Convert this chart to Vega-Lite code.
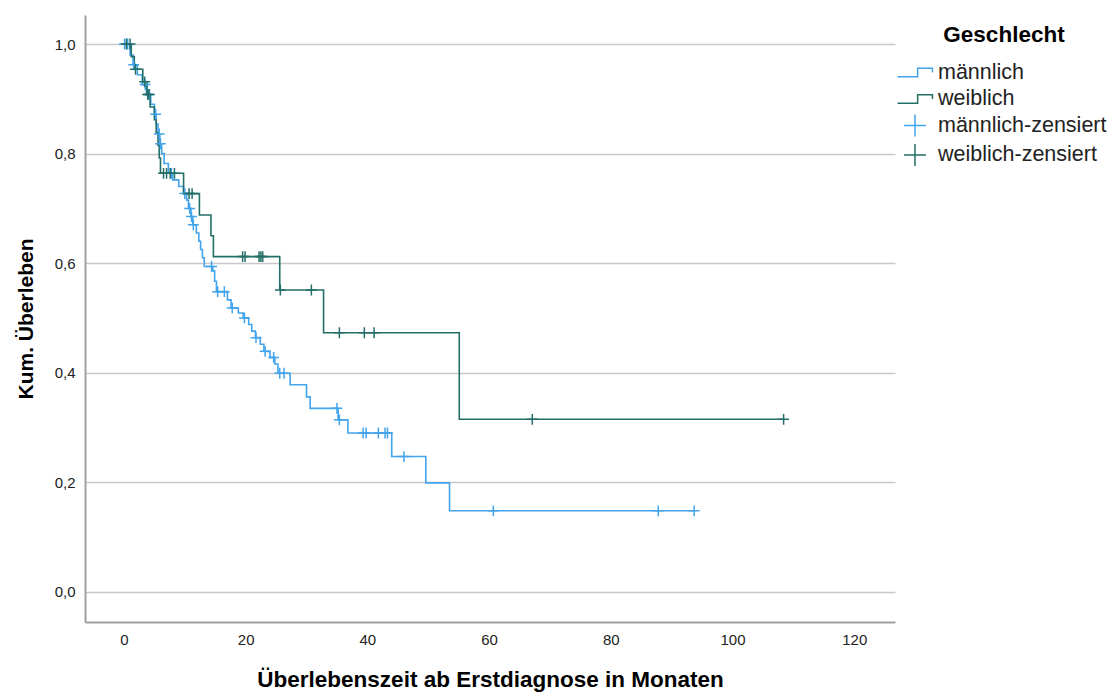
{
  "$schema": "https://vega.github.io/schema/vega-lite/v6.json",
  "width": 810,
  "height": 607,
  "autosize": {"type": "none"},
  "padding": {"left": 85, "top": 15, "right": 218, "bottom": 71},
  "background": "white",
  "config": {
    "view": {"stroke": null},
    "font": "Liberation Sans",
    "axis": {"labelFont": "Liberation Sans", "titleFont": "Liberation Sans", "labelColor": "#222222", "titleColor": "#000000", "domainColor": "#a0a0a0", "domainWidth": 2, "gridColor": "#c8c8c8", "gridWidth": 1.5, "ticks": false},
    "legend": {"labelFont": "Liberation Sans", "titleFont": "Liberation Sans"}
  },
  "datasets": {
    "steps": [
      {"g": "männlich", "t": 0, "s": 1.0},
      {"g": "männlich", "t": 1.0, "s": 0.98},
      {"g": "männlich", "t": 1.5, "s": 0.962},
      {"g": "männlich", "t": 2.2, "s": 0.944},
      {"g": "männlich", "t": 3.0, "s": 0.926},
      {"g": "männlich", "t": 3.7, "s": 0.908},
      {"g": "männlich", "t": 4.4, "s": 0.89},
      {"g": "männlich", "t": 5.0, "s": 0.872},
      {"g": "männlich", "t": 5.3, "s": 0.854},
      {"g": "männlich", "t": 5.6, "s": 0.836},
      {"g": "männlich", "t": 5.9, "s": 0.818},
      {"g": "männlich", "t": 6.2, "s": 0.8},
      {"g": "männlich", "t": 6.6, "s": 0.782},
      {"g": "männlich", "t": 7.3, "s": 0.764},
      {"g": "männlich", "t": 8.0, "s": 0.752},
      {"g": "männlich", "t": 9.0, "s": 0.74},
      {"g": "männlich", "t": 9.8, "s": 0.727},
      {"g": "männlich", "t": 10.3, "s": 0.715},
      {"g": "männlich", "t": 10.6, "s": 0.7},
      {"g": "männlich", "t": 11.0, "s": 0.685},
      {"g": "männlich", "t": 11.3, "s": 0.67},
      {"g": "männlich", "t": 11.9, "s": 0.655},
      {"g": "männlich", "t": 12.3, "s": 0.64},
      {"g": "männlich", "t": 12.6, "s": 0.625},
      {"g": "männlich", "t": 12.9, "s": 0.61},
      {"g": "männlich", "t": 13.2, "s": 0.594},
      {"g": "männlich", "t": 14.6, "s": 0.586},
      {"g": "männlich", "t": 14.9, "s": 0.567},
      {"g": "männlich", "t": 15.2, "s": 0.548},
      {"g": "männlich", "t": 17.0, "s": 0.533},
      {"g": "männlich", "t": 17.6, "s": 0.518},
      {"g": "männlich", "t": 18.8, "s": 0.509},
      {"g": "männlich", "t": 19.6, "s": 0.5},
      {"g": "männlich", "t": 20.5, "s": 0.488},
      {"g": "männlich", "t": 21.0, "s": 0.476},
      {"g": "männlich", "t": 21.6, "s": 0.464},
      {"g": "männlich", "t": 22.4, "s": 0.452},
      {"g": "männlich", "t": 23.0, "s": 0.439},
      {"g": "männlich", "t": 24.0, "s": 0.428},
      {"g": "männlich", "t": 24.8, "s": 0.416},
      {"g": "männlich", "t": 25.3, "s": 0.399},
      {"g": "männlich", "t": 27.3, "s": 0.378},
      {"g": "männlich", "t": 30.0, "s": 0.356},
      {"g": "männlich", "t": 30.6, "s": 0.335},
      {"g": "männlich", "t": 35.2, "s": 0.314},
      {"g": "männlich", "t": 36.8, "s": 0.29},
      {"g": "männlich", "t": 44.0, "s": 0.247},
      {"g": "männlich", "t": 49.6, "s": 0.199},
      {"g": "männlich", "t": 53.5, "s": 0.148},
      {"g": "männlich", "t": 93.8, "s": 0.148},
      {"g": "weiblich", "t": 0, "s": 1.0},
      {"g": "weiblich", "t": 1.2, "s": 0.977},
      {"g": "weiblich", "t": 1.7, "s": 0.954},
      {"g": "weiblich", "t": 3.1, "s": 0.931},
      {"g": "weiblich", "t": 3.8, "s": 0.908},
      {"g": "weiblich", "t": 4.3, "s": 0.885},
      {"g": "weiblich", "t": 5.0, "s": 0.862},
      {"g": "weiblich", "t": 5.3, "s": 0.838},
      {"g": "weiblich", "t": 5.6, "s": 0.815},
      {"g": "weiblich", "t": 5.8, "s": 0.792},
      {"g": "weiblich", "t": 6.0, "s": 0.764},
      {"g": "weiblich", "t": 9.8, "s": 0.727},
      {"g": "weiblich", "t": 12.4, "s": 0.688},
      {"g": "weiblich", "t": 14.3, "s": 0.65},
      {"g": "weiblich", "t": 14.7, "s": 0.612},
      {"g": "weiblich", "t": 25.6, "s": 0.551},
      {"g": "weiblich", "t": 32.8, "s": 0.473},
      {"g": "weiblich", "t": 55.1, "s": 0.315},
      {"g": "weiblich", "t": 108.4, "s": 0.315}
    ],
    "censored": [
      {"g": "männlich-zensiert", "t": 0.1, "s": 1.0},
      {"g": "männlich-zensiert", "t": 0.6, "s": 1.0},
      {"g": "männlich-zensiert", "t": 1.6, "s": 0.962},
      {"g": "männlich-zensiert", "t": 3.5, "s": 0.926},
      {"g": "männlich-zensiert", "t": 4.2, "s": 0.908},
      {"g": "männlich-zensiert", "t": 5.2, "s": 0.872},
      {"g": "männlich-zensiert", "t": 5.8, "s": 0.836},
      {"g": "männlich-zensiert", "t": 6.0, "s": 0.818},
      {"g": "männlich-zensiert", "t": 7.8, "s": 0.764},
      {"g": "männlich-zensiert", "t": 10.0, "s": 0.727},
      {"g": "männlich-zensiert", "t": 10.8, "s": 0.7},
      {"g": "männlich-zensiert", "t": 11.1, "s": 0.685},
      {"g": "männlich-zensiert", "t": 11.4, "s": 0.67},
      {"g": "männlich-zensiert", "t": 14.4, "s": 0.594},
      {"g": "männlich-zensiert", "t": 15.4, "s": 0.548},
      {"g": "männlich-zensiert", "t": 16.5, "s": 0.548},
      {"g": "männlich-zensiert", "t": 17.8, "s": 0.518},
      {"g": "männlich-zensiert", "t": 19.8, "s": 0.5},
      {"g": "männlich-zensiert", "t": 21.7, "s": 0.464},
      {"g": "männlich-zensiert", "t": 23.2, "s": 0.439},
      {"g": "männlich-zensiert", "t": 24.6, "s": 0.428},
      {"g": "männlich-zensiert", "t": 25.6, "s": 0.399},
      {"g": "männlich-zensiert", "t": 26.3, "s": 0.399},
      {"g": "männlich-zensiert", "t": 35.0, "s": 0.335},
      {"g": "männlich-zensiert", "t": 35.4, "s": 0.314},
      {"g": "männlich-zensiert", "t": 39.3, "s": 0.29},
      {"g": "männlich-zensiert", "t": 39.8, "s": 0.29},
      {"g": "männlich-zensiert", "t": 41.8, "s": 0.29},
      {"g": "männlich-zensiert", "t": 42.9, "s": 0.29},
      {"g": "männlich-zensiert", "t": 43.3, "s": 0.29},
      {"g": "männlich-zensiert", "t": 46.0, "s": 0.247},
      {"g": "männlich-zensiert", "t": 60.7, "s": 0.148},
      {"g": "männlich-zensiert", "t": 87.8, "s": 0.148},
      {"g": "männlich-zensiert", "t": 93.7, "s": 0.148},
      {"g": "weiblich-zensiert", "t": 0.4, "s": 1.0},
      {"g": "weiblich-zensiert", "t": 1.0, "s": 1.0},
      {"g": "weiblich-zensiert", "t": 1.9, "s": 0.954},
      {"g": "weiblich-zensiert", "t": 3.4, "s": 0.931},
      {"g": "weiblich-zensiert", "t": 3.9, "s": 0.908},
      {"g": "weiblich-zensiert", "t": 4.1, "s": 0.908},
      {"g": "weiblich-zensiert", "t": 6.5, "s": 0.764},
      {"g": "weiblich-zensiert", "t": 7.0, "s": 0.764},
      {"g": "weiblich-zensiert", "t": 7.6, "s": 0.764},
      {"g": "weiblich-zensiert", "t": 8.3, "s": 0.764},
      {"g": "weiblich-zensiert", "t": 10.7, "s": 0.727},
      {"g": "weiblich-zensiert", "t": 11.2, "s": 0.727},
      {"g": "weiblich-zensiert", "t": 19.5, "s": 0.612},
      {"g": "weiblich-zensiert", "t": 19.9, "s": 0.612},
      {"g": "weiblich-zensiert", "t": 22.2, "s": 0.612},
      {"g": "weiblich-zensiert", "t": 22.5, "s": 0.612},
      {"g": "weiblich-zensiert", "t": 22.8, "s": 0.612},
      {"g": "weiblich-zensiert", "t": 25.7, "s": 0.551},
      {"g": "weiblich-zensiert", "t": 30.8, "s": 0.551},
      {"g": "weiblich-zensiert", "t": 35.4, "s": 0.473},
      {"g": "weiblich-zensiert", "t": 39.5, "s": 0.473},
      {"g": "weiblich-zensiert", "t": 41.1, "s": 0.473},
      {"g": "weiblich-zensiert", "t": 67.1, "s": 0.315},
      {"g": "weiblich-zensiert", "t": 108.4, "s": 0.315}
    ]
  },
  "encoding": {
    "x": {"field": "t", "type": "quantitative", "scale": {"domain": [-6.4, 126.7], "nice": false, "zero": false},
      "axis": {"values": [0, 20, 40, 60, 80, 100, 120], "grid": false, "title": "Überlebenszeit ab Erstdiagnose in Monaten", "titleFontSize": 22.5, "titleFontWeight": "bold", "labelFontSize": 15, "labelPadding": 10, "titlePadding": 21}},
    "y": {"field": "s", "type": "quantitative", "scale": {"domain": [-0.055, 1.053], "nice": false, "zero": false},
      "axis": {"values": [0, 0.2, 0.4, 0.6, 0.8, 1.0], "grid": true, "title": "Kum. Überleben", "titleFontSize": 21, "titleFontWeight": "bold", "labelFontSize": 15, "labelPadding": 10, "titlePadding": 18,
        "labelExpr": "replace(format(datum.value, '.1f'), '.', ',')"}}
  },
  "layer": [
    {
      "data": {"name": "steps"},
      "mark": {"type": "line", "interpolate": "step-after", "strokeWidth": 1.6},
      "encoding": {
        "detail": {"field": "g"},
        "stroke": {"field": "g", "type": "nominal", "scale": {"domain": ["männlich", "weiblich"], "range": ["#42a4ec", "#236e67"]}, "legend": null}
      }
    },
    {
      "data": {"name": "censored"},
      "mark": {"type": "point", "filled": false, "strokeWidth": 1.5, "size": 170, "opacity": 1},
      "encoding": {
        "color": {"field": "g", "type": "nominal", "title": "Geschlecht",
          "scale": {"domain": ["männlich", "weiblich", "männlich-zensiert", "weiblich-zensiert"], "range": ["#42a4ec", "#236e67", "#42a4ec", "#236e67"]},
          "legend": {"orient": "none", "legendX": 816, "legendY": 9, "padding": 0, "titleFontSize": 22.5, "titleFontWeight": "bold", "titleColor": "#000000", "titleAnchor": "middle", "titlePadding": 12, "labelFontSize": 21.5, "labelColor": "#222222", "labelOffset": 9, "labelLimit": 0, "symbolSize": 700, "symbolStrokeWidth": 1.5, "rowPadding": 1.5}},
        "shape": {"field": "g", "type": "nominal", "title": "Geschlecht",
          "scale": {"domain": ["männlich", "weiblich", "männlich-zensiert", "weiblich-zensiert"], "range": ["M-1.32,0.33H0.2V-0.33H1.32V0", "M-1.32,0.33H0.2V-0.33H1.32V0", "M-0.83,0H0.83M0,-0.83V0.83", "M-0.83,0H0.83M0,-0.83V0.83"]}}
      }
    }
  ]
}
